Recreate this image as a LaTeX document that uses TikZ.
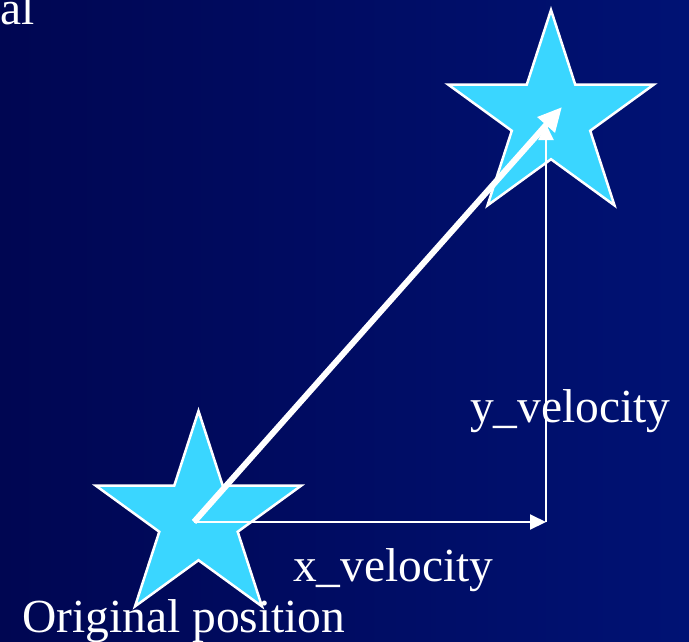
\documentclass[tikz,border=0pt]{standalone}
\usepackage{fontspec}
\setmainfont{Liberation Serif}
\usetikzlibrary{shapes.geometric,arrows.meta}
\definecolor{bgL}{RGB}{0,6,82}
\definecolor{bgR}{RGB}{0,18,116}
\definecolor{starfill}{RGB}{58,214,255}
\begin{document}
\begin{tikzpicture}[x=1pt,y=-1pt,
  starnode/.style={star, star points=5, star point ratio=2.62, minimum size=216pt, inner sep=0pt, outer sep=0pt, fill=starfill, draw=white, line width=2.5pt},
  thickarrow/.style={white, line width=6pt, -{Triangle[length=24pt,width=22pt]}},
  thinarrow/.style={white, line width=2pt, -{Triangle[length=16pt,width=15pt]}},
  txt/.style={text=white, font=\fontsize{47.5}{56}\selectfont, inner sep=0pt, anchor=base west}]
\useasboundingbox (0,0) rectangle (689,641);
\clip (0,0) rectangle (689,641);
\fill[left color=bgL, right color=bgR] (0,0) rectangle (689,641);
\node[starnode] (s1) at (198.5,519) {};
\node[starnode] (s2) at (551,118) {};
\coordinate (o) at (194,522);
\coordinate (c) at (546,522);
\coordinate (t) at (562,107);
\coordinate (vt) at (546,124);
\draw[thinarrow] (o) -- (c);
\draw[thinarrow] (c) -- (vt);
\draw[thickarrow] (o) -- (t);
\node[txt] (al) at (0,24) {al};
\node[txt] (yv) at (470,422) {y\_velocity};
\node[txt] (xv) at (293,581) {x\_velocity};
\node[txt] (op) at (22,632) {Original position};
\end{tikzpicture}
\end{document}
